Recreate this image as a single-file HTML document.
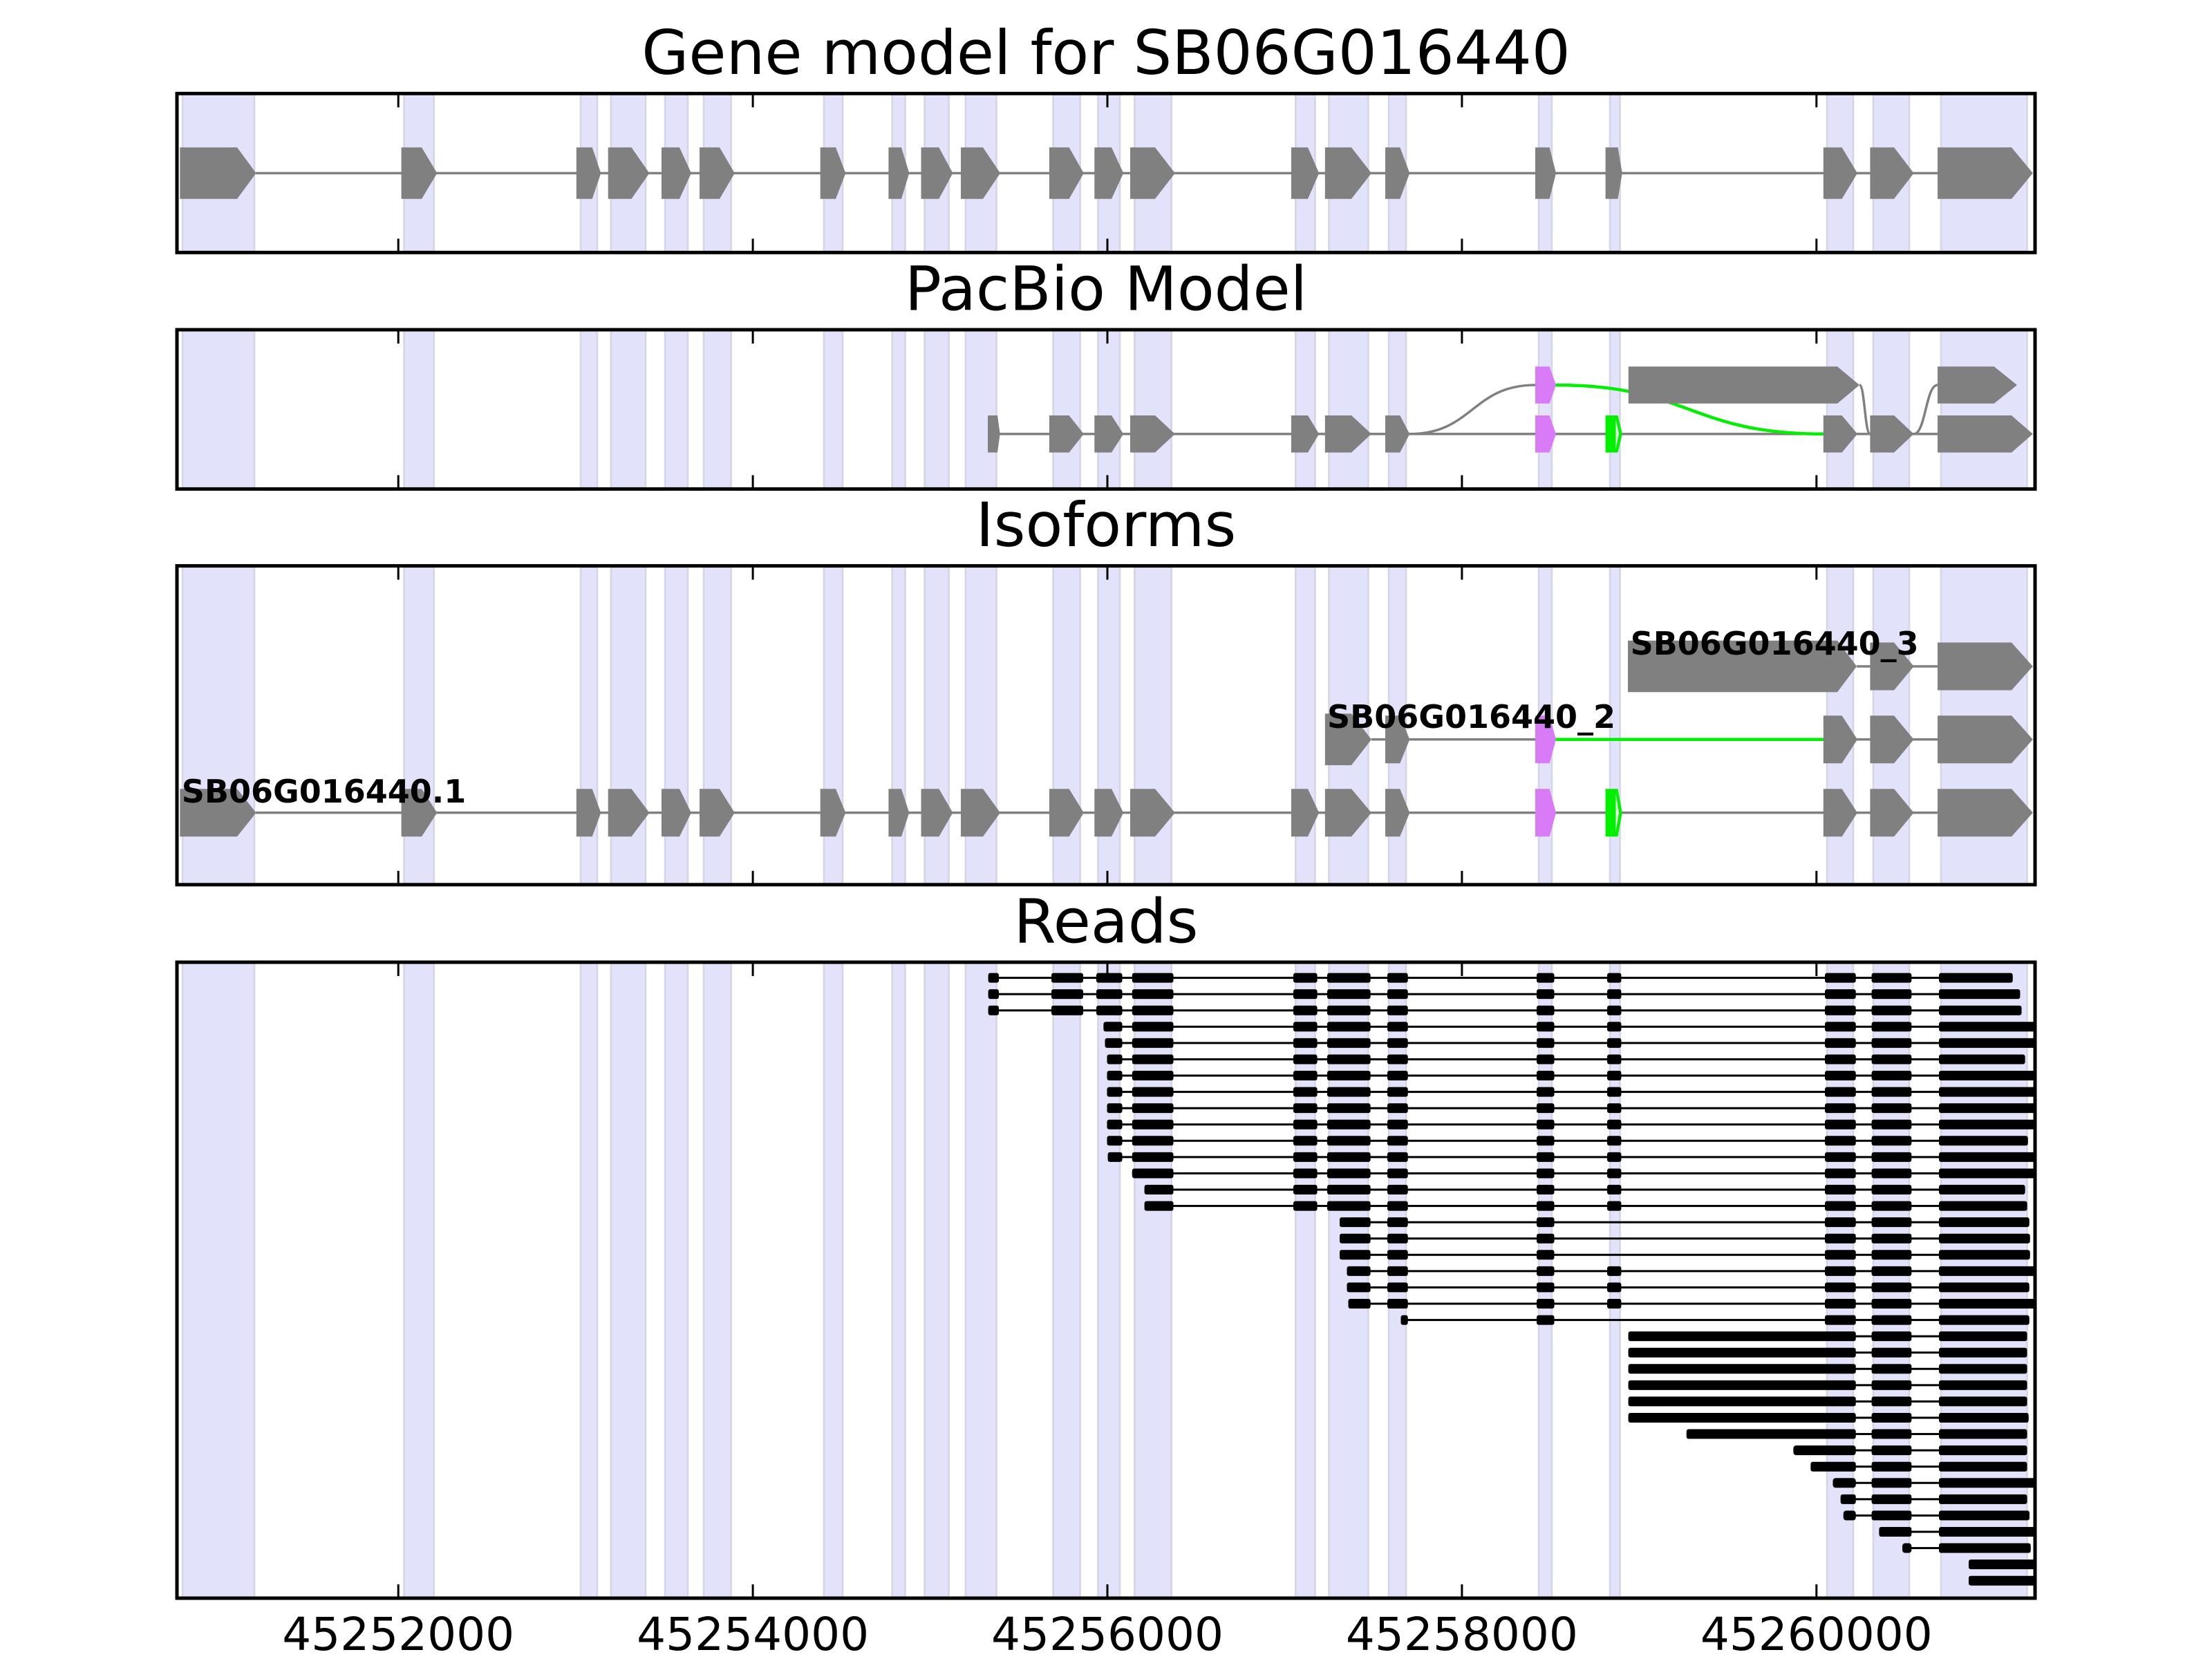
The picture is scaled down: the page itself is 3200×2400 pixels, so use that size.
<!DOCTYPE html>
<html><head><meta charset="utf-8"><style>
html,body{margin:0;padding:0;background:#fff;}
svg{display:block;}
text{font-family:"DejaVu Sans","Liberation Sans",sans-serif;}
</style></head><body>
<svg width="3200" height="2400" viewBox="0 0 3200 2400" xmlns="http://www.w3.org/2000/svg">
<defs>
 <g id="bands" fill="#E2E2FA" stroke="#D4D4E6" stroke-width="2.5">
  <rect vector-effect="non-scaling-stroke" x="264" y="0" width="104" height="1"/>
  <rect vector-effect="non-scaling-stroke" x="584.6" y="0" width="43.1" height="1"/>
  <rect vector-effect="non-scaling-stroke" x="840" y="0" width="24" height="1"/>
  <rect vector-effect="non-scaling-stroke" x="884" y="0" width="50" height="1"/>
  <rect vector-effect="non-scaling-stroke" x="962" y="0" width="33" height="1"/>
  <rect vector-effect="non-scaling-stroke" x="1018" y="0" width="39.6" height="1"/>
  <rect vector-effect="non-scaling-stroke" x="1192" y="0" width="27" height="1"/>
  <rect vector-effect="non-scaling-stroke" x="1290.6" y="0" width="18.9" height="1"/>
  <rect vector-effect="non-scaling-stroke" x="1337.6" y="0" width="35" height="1"/>
  <rect vector-effect="non-scaling-stroke" x="1396.8" y="0" width="44.7" height="1"/>
  <rect vector-effect="non-scaling-stroke" x="1523.6" y="0" width="39" height="1"/>
  <rect vector-effect="non-scaling-stroke" x="1588.5" y="0" width="31.5" height="1"/>
  <rect vector-effect="non-scaling-stroke" x="1641.3" y="0" width="53.4" height="1"/>
  <rect vector-effect="non-scaling-stroke" x="1874.3" y="0" width="28.2" height="1"/>
  <rect vector-effect="non-scaling-stroke" x="1922.5" y="0" width="56.9" height="1"/>
  <rect vector-effect="non-scaling-stroke" x="2009" y="0" width="25" height="1"/>
  <rect vector-effect="non-scaling-stroke" x="2226" y="0" width="19" height="1"/>
  <rect vector-effect="non-scaling-stroke" x="2329" y="0" width="14.6" height="1"/>
  <rect vector-effect="non-scaling-stroke" x="2643" y="0" width="38" height="1"/>
  <rect vector-effect="non-scaling-stroke" x="2710" y="0" width="52" height="1"/>
  <rect vector-effect="non-scaling-stroke" x="2808" y="0" width="124.5" height="1"/>
 </g>
 <polygon id="x1" points="260.3,-1 343,-1 370.5,0 343,1 260.3,1"/>
 <polygon id="x2" points="580.6,-1 610,-1 632.3,0 610,1 580.6,1"/>
 <polygon id="x3" points="833.8,-1 856.7,-1 869.3,0 856.7,1 833.8,1"/>
 <polygon id="x4" points="879.7,-1 913.5,-1 939.4,0 913.5,1 879.7,1"/>
 <polygon id="x5" points="957,-1 983,-1 1000,0 983,1 957,1"/>
 <polygon id="x6" points="1012,-1 1041,-1 1062.8,0 1041,1 1012,1"/>
 <polygon id="x7" points="1186.7,-1 1209,-1 1223.4,0 1209,1 1186.7,1"/>
 <polygon id="x8" points="1285.4,-1 1304,-1 1315.3,0 1304,1 1285.4,1"/>
 <polygon id="x9" points="1332.5,-1 1358.3,-1 1378.4,0 1358.3,1 1332.5,1"/>
 <polygon id="x10" points="1390,-1 1422,-1 1447,0 1422,1 1390,1"/>
 <polygon id="x11" points="1517.9,-1 1546.6,-1 1567.8,0 1546.6,1 1517.9,1"/>
 <polygon id="x12" points="1583.3,-1 1608,-1 1625.2,0 1608,1 1583.3,1"/>
 <polygon id="x13" points="1635,-1 1671,-1 1699.8,0 1671,1 1635,1"/>
 <polygon id="x14" points="1868,-1 1892,-1 1908.2,0 1892,1 1868,1"/>
 <polygon id="x15" points="1916.8,-1 1955,-1 1984,0 1955,1 1916.8,1"/>
 <polygon id="x16" points="2004,-1 2025.3,-1 2039.3,0 2025.3,1 2004,1"/>
 <polygon id="x17" points="2221,-1 2241.6,-1 2251,0 2241.6,1 2221,1"/>
 <polygon id="x18" points="2322.6,-1 2340.5,-1 2346.8,0 2340.5,1 2322.6,1"/>
 <polygon id="x18i" points="2337.5,-0.8 2342,0 2337.5,0.8"/>
 <polygon id="x19" points="2637.8,-1 2664.6,-1 2687,0 2664.6,1 2637.8,1"/>
 <polygon id="x20" points="2705.4,-1 2740,-1 2768.6,0 2740,1 2705.4,1"/>
 <polygon id="x21" points="2803,-1 2910,-1 2940.8,0 2910,1 2803,1"/>
 <polygon id="xs" points="1429,-1 1443,-1 1446.7,0 1443,1 1429,1"/>
 <polygon id="xb" points="2355.8,-1 2658,-1 2690,0 2658,1 2355.8,1"/>
 <polygon id="xb3" points="2355,-1 2658,-1 2686,0 2658,1 2355,1"/>
 <polygon id="xr" points="2803,-1 2884.7,-1 2918,0 2884.7,1 2803,1"/>
 <g id="A"><use href="#x1"/><use href="#x2"/><use href="#x3"/><use href="#x4"/><use href="#x5"/><use href="#x6"/><use href="#x7"/><use href="#x8"/><use href="#x9"/><use href="#x10"/><use href="#x11"/><use href="#x12"/><use href="#x13"/><use href="#x14"/><use href="#x15"/><use href="#x16"/></g>
 <g id="B"><use href="#x19"/><use href="#x20"/><use href="#x21"/></g>
 <g id="ticks" stroke="#000" stroke-width="3">
  <line x1="576.2" y1="0" x2="576.2" y2="20"/><line x1="1089.1" y1="0" x2="1089.1" y2="20"/><line x1="1602" y1="0" x2="1602" y2="20"/><line x1="2114.9" y1="0" x2="2114.9" y2="20"/><line x1="2627.8" y1="0" x2="2627.8" y2="20"/>
 </g>
 <!-- read blocks -->
 <g id="ra"><rect x="1871" y="-7" width="34.6" height="14" rx="3"/><rect x="1920" y="-7" width="62.6" height="14" rx="3"/></g>
 <rect id="rb" x="2007" y="-7" width="29.7" height="14" rx="3"/>
 <g id="rc"><rect x="2223" y="-7" width="25.5" height="14" rx="3"/><rect x="2640" y="-7" width="44.7" height="14" rx="3"/><rect x="2707.6" y="-7" width="57.7" height="14" rx="3"/></g>
 <rect id="rd" x="2325" y="-7" width="20.4" height="14" rx="3"/>
 <rect id="r13" x="1637.8" y="-7" width="59.7" height="14" rx="3"/>
 <rect id="r20" x="2707.6" y="-7" width="57.7" height="14" rx="3"/>
 <g id="rfront"><rect x="1521" y="-7" width="46" height="14" rx="3"/><rect x="1586" y="-7" width="37.5" height="14" rx="3"/></g>
 <clipPath id="c4"><rect x="256" y="1392" width="2688" height="920"/></clipPath>
</defs>

<rect x="0" y="0" width="3200" height="2400" fill="#fff"/>

<!-- Titles -->
<g font-size="88" text-anchor="middle" fill="#000">
 <text x="1600" y="107">Gene model for SB06G016440</text>
 <text x="1600" y="448.4">PacBio Model</text>
 <text x="1600" y="790">Isoforms</text>
 <text x="1600" y="1363.4">Reads</text>
</g>

<!-- ===== Axes 1: Gene model ===== -->
<g transform="translate(0,135.3) scale(1,230)"><use href="#bands"/></g>
<rect x="370" y="248.75" width="2433" height="3.5" fill="#808080"/>
<g transform="translate(0,250.5) scale(1,37.3)" fill="#808080"><use href="#A"/><use href="#x17"/><use href="#x18"/><use href="#B"/></g>

<!-- ===== Axes 2: PacBio ===== -->
<g transform="translate(0,477) scale(1,230.4)"><use href="#bands"/></g>
<rect x="1446" y="626.05" width="1357" height="3.5" fill="#808080"/>
<path d="M2039.3,627.8 C2130,627.8 2130,557 2221,557" fill="none" stroke="#808080" stroke-width="3.5"/>
<path d="M2250,557 C2444,557 2444,627.8 2637.8,627.8" fill="none" stroke="#00F000" stroke-width="4.5"/>
<g transform="translate(0,627.8) scale(1,26.8)">
 <g fill="#808080"><use href="#xs"/><use href="#x11"/><use href="#x12"/><use href="#x13"/><use href="#x14"/><use href="#x15"/><use href="#x16"/><use href="#B"/></g>
 <use href="#x17" fill="#D97BF6"/>
 <use href="#x18" fill="#00F000"/>
 <use href="#x18i" fill="#E8FFE8"/>
</g>
<g transform="translate(0,557) scale(1,26.8)">
 <use href="#x17" fill="#D97BF6"/>
 <use href="#xb" fill="#808080"/>
 <use href="#xr" fill="#808080"/>
</g>
<path d="M2690,557 C2697.7,557 2697.7,627.8 2705.4,627.8" fill="none" stroke="#808080" stroke-width="3.5"/>
<path d="M2768.6,627.8 C2785.8,627.8 2785.8,557 2803,557" fill="none" stroke="#808080" stroke-width="3.5"/>

<!-- ===== Axes 3: Isoforms ===== -->
<g transform="translate(0,818.6) scale(1,461.2)"><use href="#bands"/></g>
<!-- row 1 -->
<rect x="370" y="1173.95" width="2433" height="3.5" fill="#808080"/>
<g transform="translate(0,1175.7) scale(1,34.5)">
 <g fill="#808080"><use href="#A"/><use href="#B"/></g>
 <use href="#x17" fill="#D97BF6"/>
 <use href="#x18" fill="#00F000"/>
 <use href="#x18i" fill="#E8FFE8"/>
</g>
<!-- row 2 -->
<rect x="1984" y="1067.95" width="240" height="3.5" fill="#808080"/>
<rect x="2683" y="1067.95" width="122" height="3.5" fill="#808080"/>
<rect x="2247" y="1067.45" width="393.6" height="4.5" fill="#00F000"/>
<g transform="translate(0,1069.7) scale(1,37.3)" fill="#808080"><use href="#x15"/></g>
<g transform="translate(0,1069.7) scale(1,34.5)">
 <g fill="#808080"><use href="#x16"/><use href="#B"/></g>
 <use href="#x17" fill="#D97BF6"/>
</g>
<!-- row 3 -->
<rect x="2686" y="962.25" width="117" height="3.5" fill="#808080"/>
<g transform="translate(0,964) scale(1,37.3)" fill="#808080"><use href="#xb3"/></g>
<g transform="translate(0,964) scale(1,34.5)" fill="#808080"><use href="#x20"/><use href="#x21"/></g>
<!-- labels -->
<g font-size="46" font-weight="bold" fill="#000">
 <text x="262.8" y="1161">SB06G016440.1</text>
 <text x="1920" y="1053">SB06G016440_2</text>
 <text x="2358.6" y="947">SB06G016440_3</text>
</g>

<!-- ===== Axes 4: Reads ===== -->
<g transform="translate(0,1392) scale(1,920)"><use href="#bands"/></g>
<g clip-path="url(#c4)" fill="#000">
 <!-- rows 1-3 -->
 <g transform="translate(0,1414.6)"><rect x="1429.6" y="-1.5" width="1482.1" height="3"/><rect x="1429.6" y="-7" width="15.4" height="14" rx="3"/><use href="#rfront"/><use href="#r13"/><use href="#ra"/><use href="#rb"/><use href="#rc"/><use href="#rd"/><rect x="2805" y="-7" width="106.7" height="14" rx="3"/></g>
 <g transform="translate(0,1438.17)"><rect x="1429.6" y="-1.5" width="1492.8" height="3"/><rect x="1429.6" y="-7" width="15.4" height="14" rx="3"/><use href="#rfront"/><use href="#r13"/><use href="#ra"/><use href="#rb"/><use href="#rc"/><use href="#rd"/><rect x="2805" y="-7" width="117.4" height="14" rx="3"/></g>
 <g transform="translate(0,1461.74)"><rect x="1429.6" y="-1.5" width="1494.9" height="3"/><rect x="1429.6" y="-7" width="15.4" height="14" rx="3"/><use href="#rfront"/><use href="#r13"/><use href="#ra"/><use href="#rb"/><use href="#rc"/><use href="#rd"/><rect x="2805" y="-7" width="119.5" height="14" rx="3"/></g>
 <!-- rows 4-12 -->
 <g transform="translate(0,1485.31)"><rect x="1596.4" y="-1.5" width="1353.6" height="3"/><rect x="1596.4" y="-7" width="27.1" height="14" rx="3"/><use href="#r13"/><use href="#ra"/><use href="#rb"/><use href="#rc"/><use href="#rd"/><rect x="2805" y="-7" width="145" height="14" rx="3"/></g>
 <g transform="translate(0,1508.88)"><rect x="1598.5" y="-1.5" width="1351.5" height="3"/><rect x="1598.5" y="-7" width="25" height="14" rx="3"/><use href="#r13"/><use href="#ra"/><use href="#rb"/><use href="#rc"/><use href="#rd"/><rect x="2805" y="-7" width="145" height="14" rx="3"/></g>
 <g transform="translate(0,1532.45)"><rect x="1601.5" y="-1.5" width="1328.1" height="3"/><rect x="1601.5" y="-7" width="22" height="14" rx="3"/><use href="#r13"/><use href="#ra"/><use href="#rb"/><use href="#rc"/><use href="#rd"/><rect x="2805" y="-7" width="124.6" height="14" rx="3"/></g>
 <g transform="translate(0,1556.02)"><rect x="1601.5" y="-1.5" width="1348.5" height="3"/><rect x="1601.5" y="-7" width="22" height="14" rx="3"/><use href="#r13"/><use href="#ra"/><use href="#rb"/><use href="#rc"/><use href="#rd"/><rect x="2805" y="-7" width="145" height="14" rx="3"/></g>
 <g transform="translate(0,1579.59)"><rect x="1601.5" y="-1.5" width="1348.5" height="3"/><rect x="1601.5" y="-7" width="22" height="14" rx="3"/><use href="#r13"/><use href="#ra"/><use href="#rb"/><use href="#rc"/><use href="#rd"/><rect x="2805" y="-7" width="145" height="14" rx="3"/></g>
 <g transform="translate(0,1603.16)"><rect x="1601.5" y="-1.5" width="1348.5" height="3"/><rect x="1601.5" y="-7" width="22" height="14" rx="3"/><use href="#r13"/><use href="#ra"/><use href="#rb"/><use href="#rc"/><use href="#rd"/><rect x="2805" y="-7" width="145" height="14" rx="3"/></g>
 <g transform="translate(0,1626.73)"><rect x="1601.5" y="-1.5" width="1348.5" height="3"/><rect x="1601.5" y="-7" width="22" height="14" rx="3"/><use href="#r13"/><use href="#ra"/><use href="#rb"/><use href="#rc"/><use href="#rd"/><rect x="2805" y="-7" width="145" height="14" rx="3"/></g>
 <g transform="translate(0,1650.3)"><rect x="1601.5" y="-1.5" width="1332.2" height="3"/><rect x="1601.5" y="-7" width="22" height="14" rx="3"/><use href="#r13"/><use href="#ra"/><use href="#rb"/><use href="#rc"/><use href="#rd"/><rect x="2805" y="-7" width="128.7" height="14" rx="3"/></g>
 <g transform="translate(0,1673.87)"><rect x="1602.6" y="-1.5" width="1347.4" height="3"/><rect x="1602.6" y="-7" width="20.9" height="14" rx="3"/><use href="#r13"/><use href="#ra"/><use href="#rb"/><use href="#rc"/><use href="#rd"/><rect x="2805" y="-7" width="145" height="14" rx="3"/></g>
 <!-- rows 13-15 -->
 <g transform="translate(0,1697.44)"><rect x="1637.8" y="-1.5" width="1312.2" height="3"/><use href="#r13"/><use href="#ra"/><use href="#rb"/><use href="#rc"/><use href="#rd"/><rect x="2805" y="-7" width="145" height="14" rx="3"/></g>
 <g transform="translate(0,1721.01)"><rect x="1655.6" y="-1.5" width="1274" height="3"/><rect x="1655.6" y="-7" width="41.9" height="14" rx="3"/><use href="#ra"/><use href="#rb"/><use href="#rc"/><use href="#rd"/><rect x="2805" y="-7" width="124.6" height="14" rx="3"/></g>
 <g transform="translate(0,1744.58)"><rect x="1655.6" y="-1.5" width="1277" height="3"/><rect x="1655.6" y="-7" width="41.9" height="14" rx="3"/><use href="#ra"/><use href="#rb"/><use href="#rc"/><use href="#rd"/><rect x="2805" y="-7" width="127.6" height="14" rx="3"/></g>
 <!-- rows 16-18 (no exon 18) -->
 <g transform="translate(0,1768.15)"><rect x="1938" y="-1.5" width="997.7" height="3"/><rect x="1938" y="-7" width="44.6" height="14" rx="3"/><use href="#rb"/><use href="#rc"/><rect x="2805" y="-7" width="130.7" height="14" rx="3"/></g>
 <g transform="translate(0,1791.72)"><rect x="1938" y="-1.5" width="998.7" height="3"/><rect x="1938" y="-7" width="44.6" height="14" rx="3"/><use href="#rb"/><use href="#rc"/><rect x="2805" y="-7" width="131.7" height="14" rx="3"/></g>
 <g transform="translate(0,1815.29)"><rect x="1938" y="-1.5" width="998.7" height="3"/><rect x="1938" y="-7" width="44.6" height="14" rx="3"/><use href="#rb"/><use href="#rc"/><rect x="2805" y="-7" width="131.7" height="14" rx="3"/></g>
 <!-- rows 19-21 -->
 <g transform="translate(0,1838.86)"><rect x="1948.5" y="-1.5" width="1001.5" height="3"/><rect x="1948.5" y="-7" width="34.1" height="14" rx="3"/><use href="#rb"/><use href="#rc"/><use href="#rd"/><rect x="2805" y="-7" width="145" height="14" rx="3"/></g>
 <g transform="translate(0,1862.43)"><rect x="1948.5" y="-1.5" width="987.2" height="3"/><rect x="1948.5" y="-7" width="34.1" height="14" rx="3"/><use href="#rb"/><use href="#rc"/><use href="#rd"/><rect x="2805" y="-7" width="130.7" height="14" rx="3"/></g>
 <g transform="translate(0,1886)"><rect x="1950.5" y="-1.5" width="999.5" height="3"/><rect x="1950.5" y="-7" width="32.1" height="14" rx="3"/><use href="#rb"/><use href="#rc"/><use href="#rd"/><rect x="2805" y="-7" width="145" height="14" rx="3"/></g>
 <!-- row 22 -->
 <g transform="translate(0,1909.57)"><rect x="2026.5" y="-1.5" width="909.2" height="3"/><rect x="2026.5" y="-7" width="10.2" height="14" rx="3"/><use href="#rc"/><rect x="2805" y="-7" width="130.7" height="14" rx="3"/></g>
 <!-- rows 23-34 -->
 <g transform="translate(0,1933.14)"><rect x="2355.6" y="-1.5" width="576.9" height="3"/><rect x="2355.6" y="-7" width="329.1" height="14" rx="3"/><use href="#r20"/><rect x="2805" y="-7" width="127.5" height="14" rx="3"/></g>
 <g transform="translate(0,1956.71)"><rect x="2355.6" y="-1.5" width="576.9" height="3"/><rect x="2355.6" y="-7" width="329.1" height="14" rx="3"/><use href="#r20"/><rect x="2805" y="-7" width="127.5" height="14" rx="3"/></g>
 <g transform="translate(0,1980.28)"><rect x="2355.6" y="-1.5" width="576.9" height="3"/><rect x="2355.6" y="-7" width="329.1" height="14" rx="3"/><use href="#r20"/><rect x="2805" y="-7" width="127.5" height="14" rx="3"/></g>
 <g transform="translate(0,2003.85)"><rect x="2355.6" y="-1.5" width="576.9" height="3"/><rect x="2355.6" y="-7" width="329.1" height="14" rx="3"/><use href="#r20"/><rect x="2805" y="-7" width="127.5" height="14" rx="3"/></g>
 <g transform="translate(0,2027.42)"><rect x="2355.6" y="-1.5" width="576.9" height="3"/><rect x="2355.6" y="-7" width="329.1" height="14" rx="3"/><use href="#r20"/><rect x="2805" y="-7" width="127.5" height="14" rx="3"/></g>
 <g transform="translate(0,2050.99)"><rect x="2355.6" y="-1.5" width="579.1" height="3"/><rect x="2355.6" y="-7" width="329.1" height="14" rx="3"/><use href="#r20"/><rect x="2805" y="-7" width="129.7" height="14" rx="3"/></g>
 <g transform="translate(0,2074.56)"><rect x="2439.8" y="-1.5" width="492.7" height="3"/><rect x="2439.8" y="-7" width="244.9" height="14" rx="3"/><use href="#r20"/><rect x="2805" y="-7" width="127.5" height="14" rx="3"/></g>
 <g transform="translate(0,2098.13)"><rect x="2594.4" y="-1.5" width="338.1" height="3"/><rect x="2594.4" y="-7" width="90.3" height="14" rx="4"/><use href="#r20"/><rect x="2805" y="-7" width="127.5" height="14" rx="3"/></g>
 <g transform="translate(0,2121.7)"><rect x="2619.4" y="-1.5" width="313.1" height="3"/><rect x="2619.4" y="-7" width="65.3" height="14" rx="3"/><use href="#r20"/><rect x="2805" y="-7" width="127.5" height="14" rx="3"/></g>
 <g transform="translate(0,2145.27)"><rect x="2651.5" y="-1.5" width="298.5" height="3"/><rect x="2651.5" y="-7" width="33.2" height="14" rx="4"/><use href="#r20"/><rect x="2805" y="-7" width="145" height="14" rx="3"/></g>
 <g transform="translate(0,2168.84)"><rect x="2662.7" y="-1.5" width="269.8" height="3"/><rect x="2662.7" y="-7" width="22" height="14" rx="3"/><use href="#r20"/><rect x="2805" y="-7" width="127.5" height="14" rx="3"/></g>
 <g transform="translate(0,2192.41)"><rect x="2666.8" y="-1.5" width="269.2" height="3"/><rect x="2666.8" y="-7" width="17.9" height="14" rx="4"/><use href="#r20"/><rect x="2805" y="-7" width="131" height="14" rx="3"/></g>
 <!-- rows 35-38 -->
 <g transform="translate(0,2215.98)"><rect x="2718.4" y="-1.5" width="231.6" height="3"/><rect x="2718.4" y="-7" width="46.9" height="14" rx="3"/><rect x="2805" y="-7" width="145" height="14" rx="3"/></g>
 <g transform="translate(0,2239.55)"><rect x="2752" y="-1.5" width="185.7" height="3"/><rect x="2752" y="-7" width="13.3" height="14" rx="4"/><rect x="2805" y="-7" width="132.7" height="14" rx="3"/></g>
 <g transform="translate(0,2263.12)"><rect x="2848" y="-7" width="102" height="14" rx="3"/></g>
 <g transform="translate(0,2286.69)"><rect x="2848" y="-7" width="102" height="14" rx="3"/></g>
</g>

<!-- ===== Spines & ticks ===== -->
<g fill="none" stroke="#000" stroke-width="5">
 <rect x="256" y="135.3" width="2688" height="230"/>
 <rect x="256" y="477" width="2688" height="230.4"/>
 <rect x="256" y="818.6" width="2688" height="461.2"/>
 <rect x="256" y="1392" width="2688" height="920"/>
</g>
<use href="#ticks" transform="translate(0,135.3)"/>
<use href="#ticks" transform="translate(0,345.3)"/>
<use href="#ticks" transform="translate(0,477)"/>
<use href="#ticks" transform="translate(0,687.4)"/>
<use href="#ticks" transform="translate(0,818.6)"/>
<use href="#ticks" transform="translate(0,1259.8)"/>
<use href="#ticks" transform="translate(0,1392)"/>
<use href="#ticks" transform="translate(0,2292)"/>

<!-- Tick labels -->
<g font-size="66" text-anchor="middle" fill="#000">
 <text x="576.2" y="2387">45252000</text>
 <text x="1089.1" y="2387">45254000</text>
 <text x="1602" y="2387">45256000</text>
 <text x="2114.9" y="2387">45258000</text>
 <text x="2627.8" y="2387">45260000</text>
</g>
</svg>
</body></html>
